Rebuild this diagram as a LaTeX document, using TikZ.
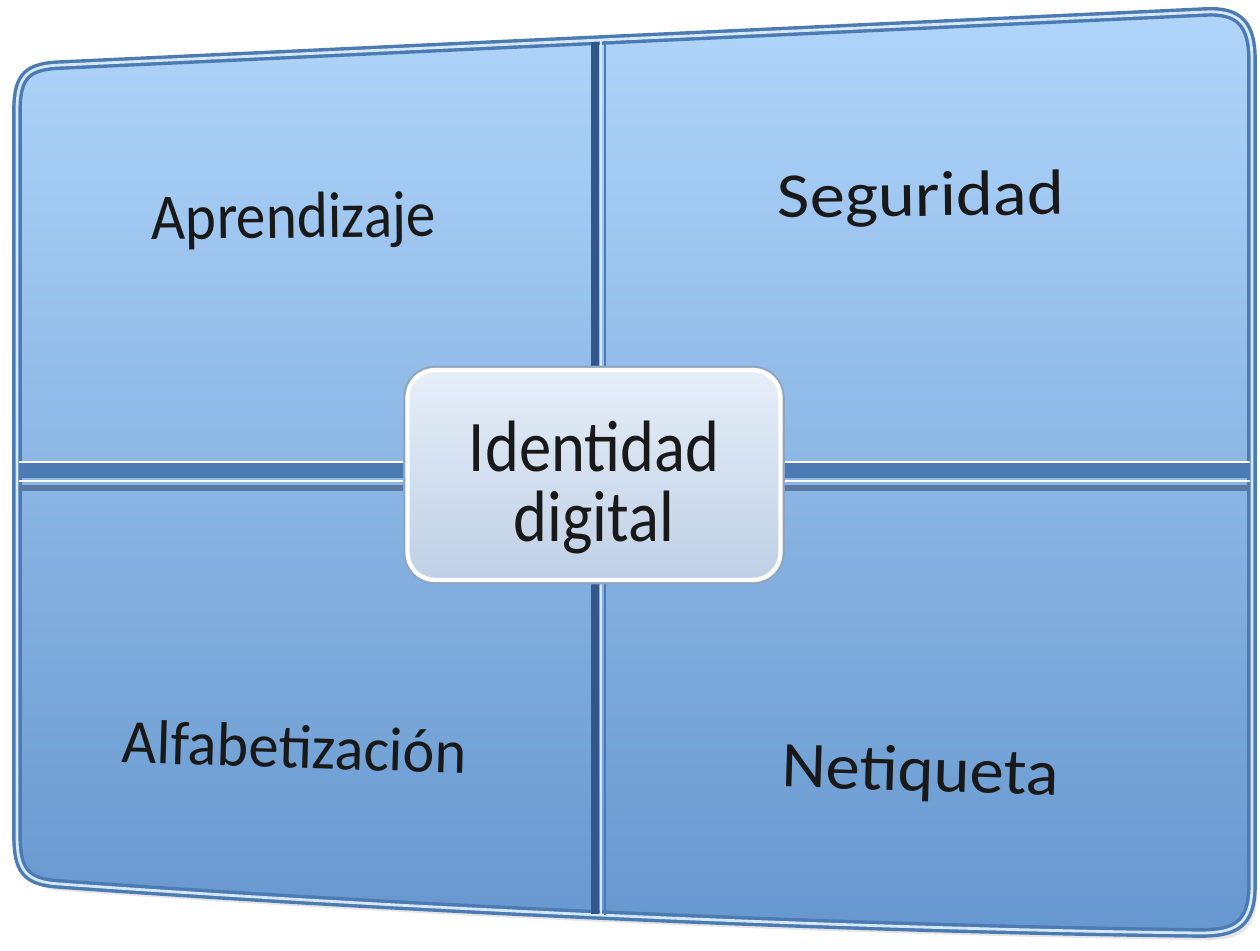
\documentclass[tikz,border=0pt]{standalone}
\usepackage{fontspec}
\setmainfont{Carlito}
\usepackage{xcolor}
\usepackage{graphicx}
\definecolor{paneltop}{HTML}{B0D5FA}
\definecolor{panelmid}{HTML}{8DB9E8}
\definecolor{panelbot}{HTML}{6697CE}
\definecolor{rimblue}{HTML}{4C7AB2}
\definecolor{rimlight}{HTML}{D4E8FB}
\definecolor{groove}{HTML}{31578B}
\definecolor{idtop}{HTML}{E6EEF8}
\definecolor{idbot}{HTML}{BFD0E5}
\definecolor{idedge}{HTML}{8EA5C2}

\tikzset{
  panel/.style={top color=paneltop, middle color=panelmid, bottom color=panelbot,
    postaction={draw=rimblue, line width=5.5pt},
    postaction={draw=rimlight, line width=1.6pt}},
  quadtext/.style={anchor=base, font=\fontsize{34}{37}\selectfont, text=black!90},
  idbox/.style={rounded corners=0.55cm, minimum width=7.46cm, minimum height=4.2cm,
    top color=idtop, bottom color=idbot, inner sep=0pt,
    preaction={draw=idedge, line width=5pt}, draw=white, line width=2.5pt,
    font=\fontsize{36}{32}\selectfont, text=black!90}
}

\begin{document}
\begin{tikzpicture}[x=0.02cm,y=-0.02cm]
  \useasboundingbox (0,0) rectangle (1260,950);
  % shadow
  \fill[black!10, xshift=0.1cm, yshift=-0.14cm] (17,420) -- (17,110) .. controls (17,75) and (28,66) .. (62,65)
    -- (1205,12) .. controls (1240,10) and (1252,25) .. (1252,60)
    -- (1252,885) .. controls (1252,925) and (1235,933) .. (1200,933)
    .. controls (800,928) and (350,905) .. (60,884)
    .. controls (25,882) and (17,870) .. (17,835) -- cycle;
  % the board
  \path[panel] (17,420) -- (17,110) .. controls (17,75) and (28,66) .. (62,65)
    -- (1205,12) .. controls (1240,10) and (1252,25) .. (1252,60)
    -- (1252,885) .. controls (1252,925) and (1235,933) .. (1200,933)
    .. controls (800,928) and (350,905) .. (60,884)
    .. controls (25,882) and (17,870) .. (17,835) -- cycle;

  % vertical groove
  \draw[groove, line width=5pt] (595,42) -- (595,914);
  \draw[rimlight, line width=1.2pt] (601,41) -- (601,915);
  \draw[rimblue, line width=1.5pt] (605,41) -- (605,915);

  % horizontal groove
  \draw[rimblue, line width=9pt] (19,470) -- (1250,470);
  \draw[white, line width=1.5pt] (19,462) -- (1250,462);
  \draw[white, line width=1.5pt] (19,481) -- (1250,481);
  \draw[groove!80, line width=3pt] (19,488) -- (1250,488);

  % quadrant texts
  \node[quadtext, rotate=0.6] (aprend) at (294,238) {\scalebox{0.99}[1.09]{Aprendizaje}};
  \node[quadtext, rotate=0.6] (segur) at (921,216) {\scalebox{1.18}[1.07]{Seguridad}};
  \node[quadtext, rotate=-1.7] (alfab) at (294,768) {\scalebox{1.01}[1.04]{Alfabetización}};
  \node[quadtext, rotate=-1.7] (netiq) at (920,791) {\scalebox{1.15}[1.09]{Netiqueta}};

  % centre
  \node[idbox] (ident) at (594,475)
    {\raisebox{-16.4pt}[0pt][0pt]{\scalebox{1.02}[1.15]{\begin{tabular}{@{}c@{}}Identidad\\digital\end{tabular}}}};
\end{tikzpicture}
\end{document}
